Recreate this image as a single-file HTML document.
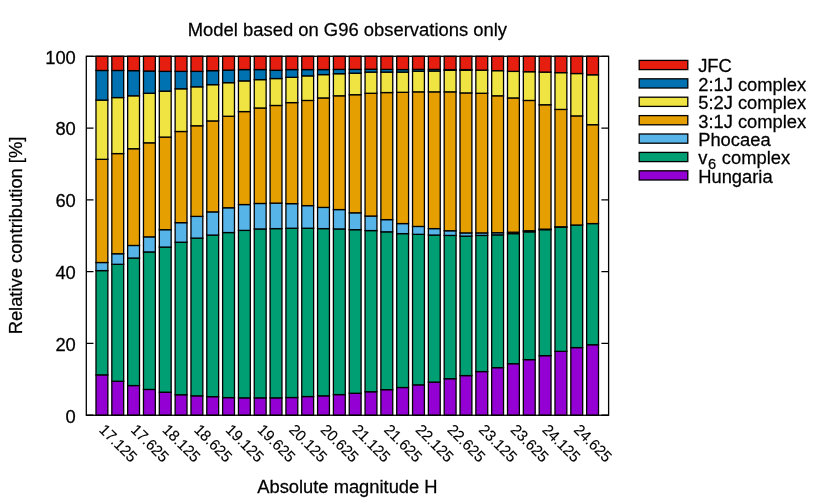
<!DOCTYPE html>
<html><head><meta charset="utf-8"><title>Model based on G96 observations only</title>
<style>html,body{margin:0;padding:0;background:#fff}svg{display:block;will-change:transform}text{font-family:"Liberation Sans",sans-serif;fill:#000;stroke:#000;stroke-width:0.25px}text.xt{stroke-width:0.12px}</style></head><body>
<svg width="830" height="498" viewBox="0 0 830 498">
<rect x="0" y="0" width="830" height="498" fill="#ffffff"/>
<text transform="translate(347.40 35.85) scale(1 1.03)" font-size="18.42" text-anchor="middle">Model based on G96 observations only</text>
<g stroke="#000" stroke-width="1.3" fill="none">
<path d="M86.30 415.25h7.2M608.60 415.25h-7.2"/>
<path d="M86.30 343.46h7.2M608.60 343.46h-7.2"/>
<path d="M86.30 271.67h7.2M608.60 271.67h-7.2"/>
<path d="M86.30 199.88h7.2M608.60 199.88h-7.2"/>
<path d="M86.30 128.09h7.2M608.60 128.09h-7.2"/>
<path d="M86.30 56.30h7.2M608.60 56.30h-7.2"/>
</g>
<text transform="translate(75.80 422.55) scale(1 1.03)" font-size="18.35" text-anchor="end">0</text>
<text transform="translate(75.80 350.76) scale(1 1.03)" font-size="18.35" text-anchor="end">20</text>
<text transform="translate(75.80 278.97) scale(1 1.03)" font-size="18.35" text-anchor="end">40</text>
<text transform="translate(75.80 207.18) scale(1 1.03)" font-size="18.35" text-anchor="end">60</text>
<text transform="translate(75.80 135.39) scale(1 1.03)" font-size="18.35" text-anchor="end">80</text>
<text transform="translate(75.80 63.60) scale(1 1.03)" font-size="18.35" text-anchor="end">100</text>
<g stroke="#000" stroke-width="1.3" stroke-linejoin="miter">
<rect x="95.99" y="374.87" width="11.87" height="40.38" fill="#9400D3"/>
<rect x="95.99" y="270.59" width="11.87" height="104.27" fill="#009E73"/>
<rect x="95.99" y="262.52" width="11.87" height="8.08" fill="#56B4E9"/>
<rect x="95.99" y="159.32" width="11.87" height="103.20" fill="#E69F00"/>
<rect x="95.99" y="100.09" width="11.87" height="59.23" fill="#F0E442"/>
<rect x="95.99" y="70.48" width="11.87" height="29.61" fill="#0072B2"/>
<rect x="95.99" y="56.30" width="11.87" height="14.18" fill="#E51E10"/>
<rect x="111.82" y="381.26" width="11.87" height="33.99" fill="#9400D3"/>
<rect x="111.82" y="264.31" width="11.87" height="116.95" fill="#009E73"/>
<rect x="111.82" y="253.72" width="11.87" height="10.59" fill="#56B4E9"/>
<rect x="111.82" y="153.58" width="11.87" height="100.15" fill="#E69F00"/>
<rect x="111.82" y="97.58" width="11.87" height="56.00" fill="#F0E442"/>
<rect x="111.82" y="70.48" width="11.87" height="27.10" fill="#0072B2"/>
<rect x="111.82" y="56.30" width="11.87" height="14.18" fill="#E51E10"/>
<rect x="127.65" y="385.56" width="11.87" height="29.69" fill="#9400D3"/>
<rect x="127.65" y="258.03" width="11.87" height="127.53" fill="#009E73"/>
<rect x="127.65" y="245.47" width="11.87" height="12.56" fill="#56B4E9"/>
<rect x="127.65" y="148.73" width="11.87" height="96.74" fill="#E69F00"/>
<rect x="127.65" y="95.78" width="11.87" height="52.95" fill="#F0E442"/>
<rect x="127.65" y="70.66" width="11.87" height="25.13" fill="#0072B2"/>
<rect x="127.65" y="56.30" width="11.87" height="14.36" fill="#E51E10"/>
<rect x="143.47" y="389.44" width="11.87" height="25.81" fill="#9400D3"/>
<rect x="143.47" y="251.93" width="11.87" height="137.51" fill="#009E73"/>
<rect x="143.47" y="236.85" width="11.87" height="15.08" fill="#56B4E9"/>
<rect x="143.47" y="142.81" width="11.87" height="94.04" fill="#E69F00"/>
<rect x="143.47" y="93.27" width="11.87" height="49.54" fill="#F0E442"/>
<rect x="143.47" y="71.02" width="11.87" height="22.25" fill="#0072B2"/>
<rect x="143.47" y="56.30" width="11.87" height="14.72" fill="#E51E10"/>
<rect x="159.30" y="392.21" width="11.87" height="23.04" fill="#9400D3"/>
<rect x="159.30" y="247.08" width="11.87" height="145.12" fill="#009E73"/>
<rect x="159.30" y="229.67" width="11.87" height="17.41" fill="#56B4E9"/>
<rect x="159.30" y="137.06" width="11.87" height="92.61" fill="#E69F00"/>
<rect x="159.30" y="91.12" width="11.87" height="45.95" fill="#F0E442"/>
<rect x="159.30" y="71.38" width="11.87" height="19.74" fill="#0072B2"/>
<rect x="159.30" y="56.30" width="11.87" height="15.08" fill="#E51E10"/>
<rect x="175.13" y="394.75" width="11.87" height="20.50" fill="#9400D3"/>
<rect x="175.13" y="242.24" width="11.87" height="152.52" fill="#009E73"/>
<rect x="175.13" y="222.67" width="11.87" height="19.56" fill="#56B4E9"/>
<rect x="175.13" y="131.50" width="11.87" height="91.17" fill="#E69F00"/>
<rect x="175.13" y="88.78" width="11.87" height="42.72" fill="#F0E442"/>
<rect x="175.13" y="71.38" width="11.87" height="17.41" fill="#0072B2"/>
<rect x="175.13" y="56.30" width="11.87" height="15.08" fill="#E51E10"/>
<rect x="190.96" y="395.83" width="11.87" height="19.42" fill="#9400D3"/>
<rect x="190.96" y="238.11" width="11.87" height="157.72" fill="#009E73"/>
<rect x="190.96" y="216.39" width="11.87" height="21.72" fill="#56B4E9"/>
<rect x="190.96" y="125.76" width="11.87" height="90.63" fill="#E69F00"/>
<rect x="190.96" y="86.81" width="11.87" height="38.95" fill="#F0E442"/>
<rect x="190.96" y="71.38" width="11.87" height="15.43" fill="#0072B2"/>
<rect x="190.96" y="56.30" width="11.87" height="15.08" fill="#E51E10"/>
<rect x="206.78" y="396.66" width="11.87" height="18.59" fill="#9400D3"/>
<rect x="206.78" y="235.06" width="11.87" height="161.60" fill="#009E73"/>
<rect x="206.78" y="211.87" width="11.87" height="23.19" fill="#56B4E9"/>
<rect x="206.78" y="120.91" width="11.87" height="90.96" fill="#E69F00"/>
<rect x="206.78" y="84.66" width="11.87" height="36.25" fill="#F0E442"/>
<rect x="206.78" y="70.66" width="11.87" height="14.00" fill="#0072B2"/>
<rect x="206.78" y="56.30" width="11.87" height="14.36" fill="#E51E10"/>
<rect x="222.61" y="397.63" width="11.87" height="17.62" fill="#9400D3"/>
<rect x="222.61" y="232.54" width="11.87" height="165.08" fill="#009E73"/>
<rect x="222.61" y="207.78" width="11.87" height="24.77" fill="#56B4E9"/>
<rect x="222.61" y="116.24" width="11.87" height="91.53" fill="#E69F00"/>
<rect x="222.61" y="82.68" width="11.87" height="33.56" fill="#F0E442"/>
<rect x="222.61" y="70.12" width="11.87" height="12.56" fill="#0072B2"/>
<rect x="222.61" y="56.30" width="11.87" height="13.82" fill="#E51E10"/>
<rect x="238.44" y="397.88" width="11.87" height="17.37" fill="#9400D3"/>
<rect x="238.44" y="230.39" width="11.87" height="167.49" fill="#009E73"/>
<rect x="238.44" y="204.55" width="11.87" height="25.84" fill="#56B4E9"/>
<rect x="238.44" y="111.58" width="11.87" height="92.97" fill="#E69F00"/>
<rect x="238.44" y="80.89" width="11.87" height="30.69" fill="#F0E442"/>
<rect x="238.44" y="69.58" width="11.87" height="11.31" fill="#0072B2"/>
<rect x="238.44" y="56.30" width="11.87" height="13.28" fill="#E51E10"/>
<rect x="254.26" y="397.88" width="11.87" height="17.37" fill="#9400D3"/>
<rect x="254.26" y="228.95" width="11.87" height="168.92" fill="#009E73"/>
<rect x="254.26" y="203.47" width="11.87" height="25.49" fill="#56B4E9"/>
<rect x="254.26" y="107.99" width="11.87" height="95.48" fill="#E69F00"/>
<rect x="254.26" y="79.63" width="11.87" height="28.36" fill="#F0E442"/>
<rect x="254.26" y="69.58" width="11.87" height="10.05" fill="#0072B2"/>
<rect x="254.26" y="56.30" width="11.87" height="13.28" fill="#E51E10"/>
<rect x="270.09" y="397.88" width="11.87" height="17.37" fill="#9400D3"/>
<rect x="270.09" y="228.60" width="11.87" height="169.28" fill="#009E73"/>
<rect x="270.09" y="203.11" width="11.87" height="25.49" fill="#56B4E9"/>
<rect x="270.09" y="105.48" width="11.87" height="97.63" fill="#E69F00"/>
<rect x="270.09" y="78.55" width="11.87" height="26.92" fill="#F0E442"/>
<rect x="270.09" y="70.30" width="11.87" height="8.26" fill="#0072B2"/>
<rect x="270.09" y="56.30" width="11.87" height="14.00" fill="#E51E10"/>
<rect x="285.92" y="397.52" width="11.87" height="17.73" fill="#9400D3"/>
<rect x="285.92" y="228.24" width="11.87" height="169.28" fill="#009E73"/>
<rect x="285.92" y="203.65" width="11.87" height="24.59" fill="#56B4E9"/>
<rect x="285.92" y="102.60" width="11.87" height="101.04" fill="#E69F00"/>
<rect x="285.92" y="77.30" width="11.87" height="25.31" fill="#F0E442"/>
<rect x="285.92" y="69.58" width="11.87" height="7.72" fill="#0072B2"/>
<rect x="285.92" y="56.30" width="11.87" height="13.28" fill="#E51E10"/>
<rect x="301.75" y="396.55" width="11.87" height="18.70" fill="#9400D3"/>
<rect x="301.75" y="228.24" width="11.87" height="168.31" fill="#009E73"/>
<rect x="301.75" y="205.62" width="11.87" height="22.61" fill="#56B4E9"/>
<rect x="301.75" y="100.45" width="11.87" height="105.17" fill="#E69F00"/>
<rect x="301.75" y="75.86" width="11.87" height="24.59" fill="#F0E442"/>
<rect x="301.75" y="69.58" width="11.87" height="6.28" fill="#0072B2"/>
<rect x="301.75" y="56.30" width="11.87" height="13.28" fill="#E51E10"/>
<rect x="317.57" y="395.83" width="11.87" height="19.42" fill="#9400D3"/>
<rect x="317.57" y="228.60" width="11.87" height="167.23" fill="#009E73"/>
<rect x="317.57" y="207.42" width="11.87" height="21.18" fill="#56B4E9"/>
<rect x="317.57" y="97.94" width="11.87" height="109.48" fill="#E69F00"/>
<rect x="317.57" y="74.61" width="11.87" height="23.33" fill="#F0E442"/>
<rect x="317.57" y="69.58" width="11.87" height="5.03" fill="#0072B2"/>
<rect x="317.57" y="56.30" width="11.87" height="13.28" fill="#E51E10"/>
<rect x="333.40" y="394.61" width="11.87" height="20.64" fill="#9400D3"/>
<rect x="333.40" y="228.95" width="11.87" height="165.66" fill="#009E73"/>
<rect x="333.40" y="209.57" width="11.87" height="19.38" fill="#56B4E9"/>
<rect x="333.40" y="95.78" width="11.87" height="113.79" fill="#E69F00"/>
<rect x="333.40" y="73.71" width="11.87" height="22.08" fill="#F0E442"/>
<rect x="333.40" y="69.40" width="11.87" height="4.31" fill="#0072B2"/>
<rect x="333.40" y="56.30" width="11.87" height="13.10" fill="#E51E10"/>
<rect x="349.23" y="393.28" width="11.87" height="21.97" fill="#9400D3"/>
<rect x="349.23" y="229.67" width="11.87" height="163.61" fill="#009E73"/>
<rect x="349.23" y="212.80" width="11.87" height="16.87" fill="#56B4E9"/>
<rect x="349.23" y="94.71" width="11.87" height="118.09" fill="#E69F00"/>
<rect x="349.23" y="73.17" width="11.87" height="21.54" fill="#F0E442"/>
<rect x="349.23" y="69.40" width="11.87" height="3.77" fill="#0072B2"/>
<rect x="349.23" y="56.30" width="11.87" height="13.10" fill="#E51E10"/>
<rect x="365.06" y="391.74" width="11.87" height="23.51" fill="#9400D3"/>
<rect x="365.06" y="230.57" width="11.87" height="161.17" fill="#009E73"/>
<rect x="365.06" y="216.03" width="11.87" height="14.54" fill="#56B4E9"/>
<rect x="365.06" y="93.27" width="11.87" height="122.76" fill="#E69F00"/>
<rect x="365.06" y="72.09" width="11.87" height="21.18" fill="#F0E442"/>
<rect x="365.06" y="69.22" width="11.87" height="2.87" fill="#0072B2"/>
<rect x="365.06" y="56.30" width="11.87" height="12.92" fill="#E51E10"/>
<rect x="380.88" y="389.66" width="11.87" height="25.59" fill="#9400D3"/>
<rect x="380.88" y="231.83" width="11.87" height="157.83" fill="#009E73"/>
<rect x="380.88" y="219.62" width="11.87" height="12.20" fill="#56B4E9"/>
<rect x="380.88" y="92.55" width="11.87" height="127.07" fill="#E69F00"/>
<rect x="380.88" y="72.09" width="11.87" height="20.46" fill="#F0E442"/>
<rect x="380.88" y="69.40" width="11.87" height="2.69" fill="#0072B2"/>
<rect x="380.88" y="56.30" width="11.87" height="13.10" fill="#E51E10"/>
<rect x="396.71" y="387.50" width="11.87" height="27.75" fill="#9400D3"/>
<rect x="396.71" y="233.62" width="11.87" height="153.88" fill="#009E73"/>
<rect x="396.71" y="223.57" width="11.87" height="10.05" fill="#56B4E9"/>
<rect x="396.71" y="92.30" width="11.87" height="131.27" fill="#E69F00"/>
<rect x="396.71" y="72.09" width="11.87" height="20.21" fill="#F0E442"/>
<rect x="396.71" y="69.58" width="11.87" height="2.51" fill="#0072B2"/>
<rect x="396.71" y="56.30" width="11.87" height="13.28" fill="#E51E10"/>
<rect x="412.54" y="384.85" width="11.87" height="30.40" fill="#9400D3"/>
<rect x="412.54" y="234.34" width="11.87" height="150.51" fill="#009E73"/>
<rect x="412.54" y="226.44" width="11.87" height="7.90" fill="#56B4E9"/>
<rect x="412.54" y="91.84" width="11.87" height="134.61" fill="#E69F00"/>
<rect x="412.54" y="71.20" width="11.87" height="20.64" fill="#F0E442"/>
<rect x="412.54" y="69.40" width="11.87" height="1.79" fill="#0072B2"/>
<rect x="412.54" y="56.30" width="11.87" height="13.10" fill="#E51E10"/>
<rect x="428.36" y="382.08" width="11.87" height="33.17" fill="#9400D3"/>
<rect x="428.36" y="235.06" width="11.87" height="147.03" fill="#009E73"/>
<rect x="428.36" y="228.60" width="11.87" height="6.46" fill="#56B4E9"/>
<rect x="428.36" y="91.84" width="11.87" height="136.76" fill="#E69F00"/>
<rect x="428.36" y="71.02" width="11.87" height="20.82" fill="#F0E442"/>
<rect x="428.36" y="69.40" width="11.87" height="1.62" fill="#0072B2"/>
<rect x="428.36" y="56.30" width="11.87" height="13.10" fill="#E51E10"/>
<rect x="444.19" y="378.71" width="11.87" height="36.54" fill="#9400D3"/>
<rect x="444.19" y="235.42" width="11.87" height="143.29" fill="#009E73"/>
<rect x="444.19" y="230.75" width="11.87" height="4.67" fill="#56B4E9"/>
<rect x="444.19" y="91.84" width="11.87" height="138.91" fill="#E69F00"/>
<rect x="444.19" y="70.30" width="11.87" height="21.54" fill="#F0E442"/>
<rect x="444.19" y="69.58" width="11.87" height="0.72" fill="#0072B2"/>
<rect x="444.19" y="56.30" width="11.87" height="13.28" fill="#E51E10"/>
<rect x="460.02" y="375.59" width="11.87" height="39.66" fill="#9400D3"/>
<rect x="460.02" y="236.13" width="11.87" height="139.45" fill="#009E73"/>
<rect x="460.02" y="232.90" width="11.87" height="3.23" fill="#56B4E9"/>
<rect x="460.02" y="92.91" width="11.87" height="139.99" fill="#E69F00"/>
<rect x="460.02" y="70.30" width="11.87" height="22.61" fill="#F0E442"/>
<rect x="460.02" y="69.58" width="11.87" height="0.72" fill="#0072B2"/>
<rect x="460.02" y="56.30" width="11.87" height="13.28" fill="#E51E10"/>
<rect x="475.85" y="371.57" width="11.87" height="43.68" fill="#9400D3"/>
<rect x="475.85" y="235.42" width="11.87" height="136.15" fill="#009E73"/>
<rect x="475.85" y="232.90" width="11.87" height="2.51" fill="#56B4E9"/>
<rect x="475.85" y="93.27" width="11.87" height="139.63" fill="#E69F00"/>
<rect x="475.85" y="70.12" width="11.87" height="23.15" fill="#F0E442"/>
<rect x="475.85" y="70.12" width="11.87" height="0.00" fill="#0072B2"/>
<rect x="475.85" y="56.30" width="11.87" height="13.82" fill="#E51E10"/>
<rect x="491.67" y="367.65" width="11.87" height="47.60" fill="#9400D3"/>
<rect x="491.67" y="234.88" width="11.87" height="132.78" fill="#009E73"/>
<rect x="491.67" y="232.72" width="11.87" height="2.15" fill="#56B4E9"/>
<rect x="491.67" y="95.78" width="11.87" height="136.94" fill="#E69F00"/>
<rect x="491.67" y="70.66" width="11.87" height="25.13" fill="#F0E442"/>
<rect x="491.67" y="70.66" width="11.87" height="0.00" fill="#0072B2"/>
<rect x="491.67" y="56.30" width="11.87" height="14.36" fill="#E51E10"/>
<rect x="507.50" y="363.70" width="11.87" height="51.55" fill="#9400D3"/>
<rect x="507.50" y="233.62" width="11.87" height="130.08" fill="#009E73"/>
<rect x="507.50" y="232.19" width="11.87" height="1.44" fill="#56B4E9"/>
<rect x="507.50" y="97.94" width="11.87" height="134.25" fill="#E69F00"/>
<rect x="507.50" y="71.38" width="11.87" height="26.56" fill="#F0E442"/>
<rect x="507.50" y="71.38" width="11.87" height="0.00" fill="#0072B2"/>
<rect x="507.50" y="56.30" width="11.87" height="15.08" fill="#E51E10"/>
<rect x="523.33" y="359.65" width="11.87" height="55.60" fill="#9400D3"/>
<rect x="523.33" y="231.83" width="11.87" height="127.82" fill="#009E73"/>
<rect x="523.33" y="230.75" width="11.87" height="1.08" fill="#56B4E9"/>
<rect x="523.33" y="100.45" width="11.87" height="130.30" fill="#E69F00"/>
<rect x="523.33" y="71.73" width="11.87" height="28.72" fill="#F0E442"/>
<rect x="523.33" y="71.73" width="11.87" height="0.00" fill="#0072B2"/>
<rect x="523.33" y="56.30" width="11.87" height="15.43" fill="#E51E10"/>
<rect x="539.16" y="355.66" width="11.87" height="59.59" fill="#9400D3"/>
<rect x="539.16" y="229.67" width="11.87" height="125.99" fill="#009E73"/>
<rect x="539.16" y="229.13" width="11.87" height="0.54" fill="#56B4E9"/>
<rect x="539.16" y="104.76" width="11.87" height="124.38" fill="#E69F00"/>
<rect x="539.16" y="72.09" width="11.87" height="32.66" fill="#F0E442"/>
<rect x="539.16" y="72.09" width="11.87" height="0.00" fill="#0072B2"/>
<rect x="539.16" y="56.30" width="11.87" height="15.79" fill="#E51E10"/>
<rect x="554.98" y="351.36" width="11.87" height="63.89" fill="#9400D3"/>
<rect x="554.98" y="227.16" width="11.87" height="124.20" fill="#009E73"/>
<rect x="554.98" y="226.80" width="11.87" height="0.36" fill="#56B4E9"/>
<rect x="554.98" y="109.42" width="11.87" height="117.38" fill="#E69F00"/>
<rect x="554.98" y="72.63" width="11.87" height="36.79" fill="#F0E442"/>
<rect x="554.98" y="72.63" width="11.87" height="0.00" fill="#0072B2"/>
<rect x="554.98" y="56.30" width="11.87" height="16.33" fill="#E51E10"/>
<rect x="570.81" y="347.59" width="11.87" height="67.66" fill="#9400D3"/>
<rect x="570.81" y="225.01" width="11.87" height="122.58" fill="#009E73"/>
<rect x="570.81" y="225.01" width="11.87" height="0.00" fill="#56B4E9"/>
<rect x="570.81" y="115.89" width="11.87" height="109.12" fill="#E69F00"/>
<rect x="570.81" y="73.53" width="11.87" height="42.36" fill="#F0E442"/>
<rect x="570.81" y="73.53" width="11.87" height="0.00" fill="#0072B2"/>
<rect x="570.81" y="56.30" width="11.87" height="17.23" fill="#E51E10"/>
<rect x="586.64" y="344.75" width="11.87" height="70.50" fill="#9400D3"/>
<rect x="586.64" y="223.57" width="11.87" height="121.18" fill="#009E73"/>
<rect x="586.64" y="223.57" width="11.87" height="0.00" fill="#56B4E9"/>
<rect x="586.64" y="124.68" width="11.87" height="98.89" fill="#E69F00"/>
<rect x="586.64" y="74.79" width="11.87" height="49.89" fill="#F0E442"/>
<rect x="586.64" y="74.79" width="11.87" height="0.00" fill="#0072B2"/>
<rect x="586.64" y="56.30" width="11.87" height="18.49" fill="#E51E10"/>
</g>
<text class="xt" transform="translate(98.25 430.68) rotate(45) scale(1 1.03)" font-size="15.0">17.125</text>
<text class="xt" transform="translate(129.90 430.68) rotate(45) scale(1 1.03)" font-size="15.0">17.625</text>
<text class="xt" transform="translate(161.55 430.68) rotate(45) scale(1 1.03)" font-size="15.0">18.125</text>
<text class="xt" transform="translate(193.21 430.68) rotate(45) scale(1 1.03)" font-size="15.0">18.625</text>
<text class="xt" transform="translate(224.86 430.68) rotate(45) scale(1 1.03)" font-size="15.0">19.125</text>
<text class="xt" transform="translate(256.52 430.68) rotate(45) scale(1 1.03)" font-size="15.0">19.625</text>
<text class="xt" transform="translate(288.17 430.68) rotate(45) scale(1 1.03)" font-size="15.0">20.125</text>
<text class="xt" transform="translate(319.83 430.68) rotate(45) scale(1 1.03)" font-size="15.0">20.625</text>
<text class="xt" transform="translate(351.48 430.68) rotate(45) scale(1 1.03)" font-size="15.0">21.125</text>
<text class="xt" transform="translate(383.14 430.68) rotate(45) scale(1 1.03)" font-size="15.0">21.625</text>
<text class="xt" transform="translate(414.79 430.68) rotate(45) scale(1 1.03)" font-size="15.0">22.125</text>
<text class="xt" transform="translate(446.45 430.68) rotate(45) scale(1 1.03)" font-size="15.0">22.625</text>
<text class="xt" transform="translate(478.10 430.68) rotate(45) scale(1 1.03)" font-size="15.0">23.125</text>
<text class="xt" transform="translate(509.75 430.68) rotate(45) scale(1 1.03)" font-size="15.0">23.625</text>
<text class="xt" transform="translate(541.41 430.68) rotate(45) scale(1 1.03)" font-size="15.0">24.125</text>
<text class="xt" transform="translate(573.06 430.68) rotate(45) scale(1 1.03)" font-size="15.0">24.625</text>
<rect x="86.3" y="56.3" width="522.30" height="358.95" fill="none" stroke="#000" stroke-width="1.3"/>
<text transform="translate(347.40 493.00) scale(1 1.03)" font-size="18.35" text-anchor="middle">Absolute magnitude H</text>
<text transform="translate(21.60 235.50) rotate(-90) scale(1 1.03)" font-size="18.35" text-anchor="middle">Relative contribution [%]</text>
<g stroke="#000" stroke-width="1.3">
<rect x="639.2" y="60.40" width="48.6" height="9.2" fill="#E51E10"/>
<rect x="639.2" y="78.80" width="48.6" height="9.2" fill="#0072B2"/>
<rect x="639.2" y="97.20" width="48.6" height="9.2" fill="#F0E442"/>
<rect x="639.2" y="115.60" width="48.6" height="9.2" fill="#E69F00"/>
<rect x="639.2" y="134.00" width="48.6" height="9.2" fill="#56B4E9"/>
<rect x="639.2" y="152.40" width="48.6" height="9.2" fill="#009E73"/>
<rect x="639.2" y="170.80" width="48.6" height="9.2" fill="#9400D3"/>
</g>
<text transform="translate(698.20 72.30) scale(1 1.03)" font-size="18.35">JFC</text>
<text transform="translate(698.20 90.70) scale(1 1.03)" font-size="18.35">2:1J complex</text>
<text transform="translate(698.20 109.10) scale(1 1.03)" font-size="18.35">5:2J complex</text>
<text transform="translate(698.20 127.50) scale(1 1.03)" font-size="18.35">3:1J complex</text>
<text transform="translate(698.20 145.90) scale(1 1.03)" font-size="18.35">Phocaea</text>
<text transform="translate(698.20 164.30) scale(1 1.03)" font-size="18.35">v<tspan font-size="14.68" dx="0.7" dy="4.1">6</tspan><tspan dx="0.5" dy="-4.1"> complex</tspan></text>
<text transform="translate(698.20 182.70) scale(1 1.03)" font-size="18.35">Hungaria</text>
</svg></body></html>
